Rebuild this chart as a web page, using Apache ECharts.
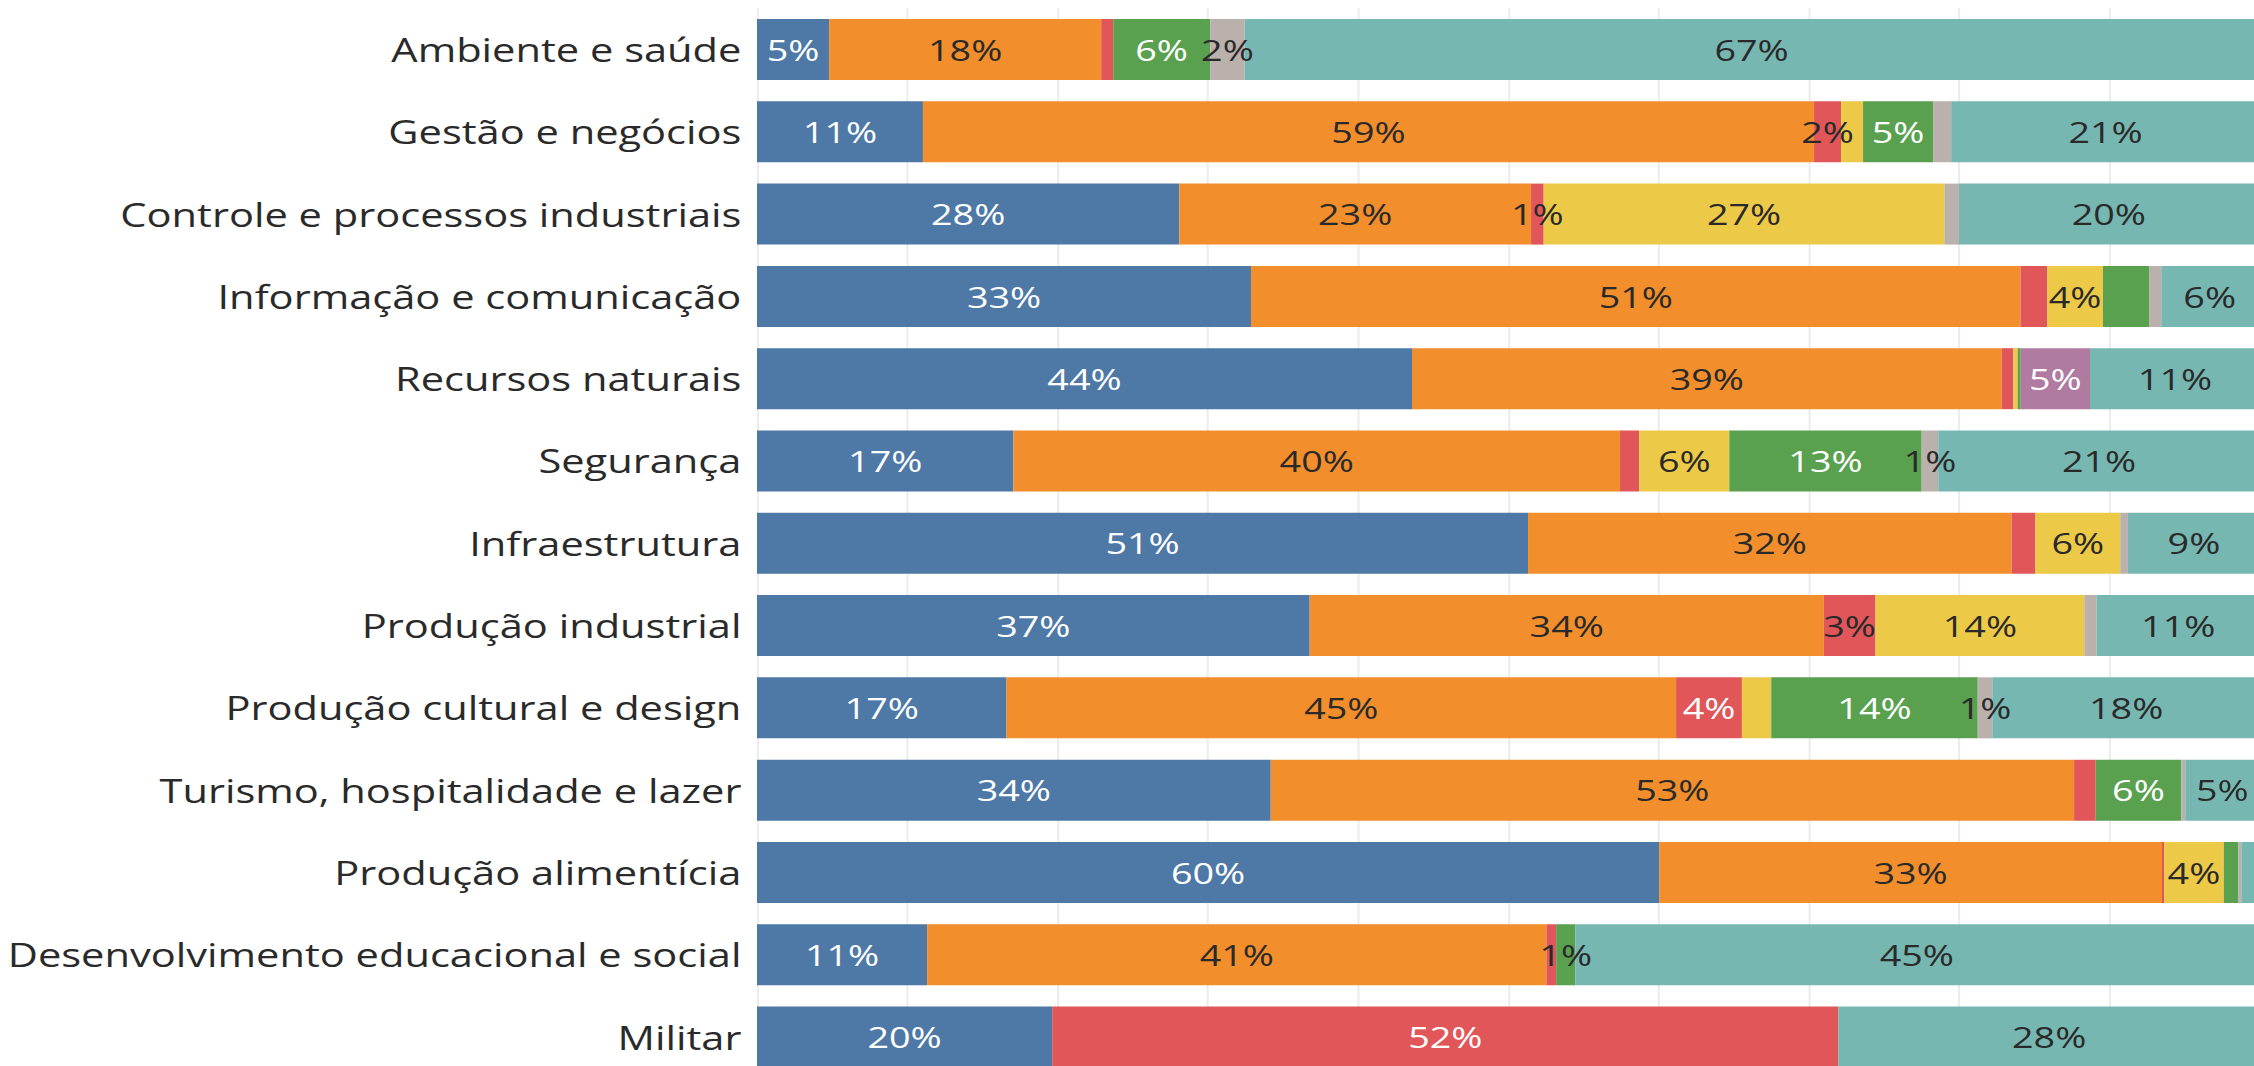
<!DOCTYPE html>
<html>
<head>
<meta charset="utf-8">
<script src="https://cdn.jsdelivr.net/npm/echarts@6/dist/echarts.min.js"></script>
<style>
html,body{margin:0;padding:0;background:#fff;overflow:hidden;}
#wrap{width:2254px;height:1066px;overflow:hidden;position:relative;}
#chart{position:absolute;left:0;top:0;height:1066px;transform-origin:0 0;}
</style>
</head>
<body>
<div id="wrap"><div id="chart"></div></div>
<script>
// ---- data (percent of each row) ----
const categories = [
  'Ambiente e saúde',
  'Gestão e negócios',
  'Controle e processos industriais',
  'Informação e comunicação',
  'Recursos naturais',
  'Segurança',
  'Infraestrutura',
  'Produção industrial',
  'Produção cultural e design',
  'Turismo, hospitalidade e lazer',
  'Produção alimentícia',
  'Desenvolvimento educacional e social',
  'Militar'
];
const seriesNames = ['Azul', 'Laranja', 'Vermelho', 'Amarelo', 'Verde', 'Cinza', 'Roxo', 'Turquesa'];
const blueVals   = [4.8, 11.04, 28.1, 32.87, 43.58, 17.06, 51.3, 36.77, 16.6, 34.18, 60.03, 11.32, 19.64];
const orangeVals = [18.1, 59.29, 23.4, 51.2, 39.24, 40.36, 32.17, 34.21, 44.55, 53.45, 33.45, 41.2, 0];
const redVals    = [0.8, 1.8, 0.84, 1.78, 0.77, 1.28, 1.59, 3.44, 4.38, 1.44, 0.14, 0.65, 52.31];
const yellowVals = [0, 1.46, 26.66, 3.7, 0.29, 5.99, 5.64, 13.89, 1.95, 0, 3.97, 0, 0];
const greenVals  = [6.45, 4.66, 0, 3.1, 0.2, 12.8, 0, 0, 13.74, 5.69, 0.97, 1.27, 0];
const grayVals   = [2.3, 1.2, 0.97, 0.78, 0, 1.1, 0.51, 0.81, 0.97, 0.27, 0.2, 0, 0];
const purpleVals = [0, 0, 0, 0, 4.61, 0, 0, 0, 0, 0, 0, 0, 0];
const tealVals   = [67.45, 20.55, 19.95, 6.45, 11.31, 21.4, 8.79, 10.88, 17.82, 4.92, 1.2, 45.45, 28.05];
// which segments carry a printed label (1 = label shown)
const blueLbl   = [1,1,1,1,1,1,1,1,1,1,1,1,1];
const orangeLbl = [1,1,1,1,1,1,1,1,1,1,1,1,0];
const redLbl    = [0,1,1,0,0,0,0,1,1,0,0,0,1];
const yellowLbl = [0,0,1,1,0,1,1,1,0,0,1,0,0];
const greenLbl  = [1,1,0,0,0,1,0,0,1,1,0,1,0];
const grayLbl   = [1,0,0,0,0,1,0,0,1,0,0,0,0];
const purpleLbl = [0,0,0,0,1,0,0,0,0,0,0,0,0];
const tealLbl   = [1,1,1,1,1,1,1,1,1,1,0,1,1];
const axisTicks = [0, 10, 20, 30, 40, 50, 60, 70, 80, 90, 100];

// ---- styling ----
const colors = ['#4e79a7', '#f28e2b', '#e15759', '#edc948', '#59a14f', '#bab0ac', '#b07aa1', '#76b7b2'];
const darkBg = [true, false, true, false, true, false, true, false];
const allVals = [blueVals, orangeVals, redVals, yellowVals, greenVals, grayVals, purpleVals, tealVals];
const allLbl = [blueLbl, orangeLbl, redLbl, yellowLbl, greenLbl, grayLbl, purpleLbl, tealLbl];

const S = 1.3;             // horizontal stretch of the reference
const W = 2254, H = 1066;
const cw = W / S;
const el = document.getElementById('chart');
el.style.width = cw + 'px';
el.style.transform = 'scaleX(' + S + ')';

const FONT = '"Open Sans", "Noto Sans", sans-serif';

const chart = echarts.init(el, null, { renderer: 'svg', width: cw, height: H });

const series = allVals.map((vals, si) => ({
  name: seriesNames[si],
  type: 'bar',
  stack: 'total',
  barWidth: 61,
  itemStyle: { color: colors[si] },
  label: { show: false },
  emphasis: { disabled: true },
  data: vals.map((v, ci) => {
    const show = allLbl[si][ci] === 1 && v > 0;
    const white = darkBg[si] && v >= 3.5;
    return {
      value: v,
      label: {
        show: show,
        position: 'inside',
        formatter: Math.round(v) + '%',
        color: white ? '#ffffff' : '#2a2a2a',
        fontFamily: FONT,
        fontSize: 29,
        overflow: 'none'
      }
    };
  })
}));

chart.setOption({
  animation: false,
  backgroundColor: '#ffffff',
  grid: {
    left: 757 / S,
    right: (W - 2260) / S,
    top: 8.35,
    bottom: -12.2,
    containLabel: false,
    outerBoundsMode: 'none'
  },
  xAxis: {
    type: 'value',
    min: axisTicks[0],
    max: axisTicks[axisTicks.length - 1],
    interval: axisTicks[1] - axisTicks[0],
    axisLine: { show: false },
    axisTick: { show: false },
    axisLabel: { show: false },
    splitLine: { show: true, lineStyle: { color: '#ececec', width: 1.6 } }
  },
  yAxis: {
    type: 'category',
    data: categories,
    inverse: true,
    axisLine: { show: false },
    axisTick: { show: false },
    axisLabel: {
      margin: 12,
      color: '#2a2a2a',
      fontFamily: FONT,
      fontSize: 32
    }
  },
  series: series
});
</script>
</body>
</html>
